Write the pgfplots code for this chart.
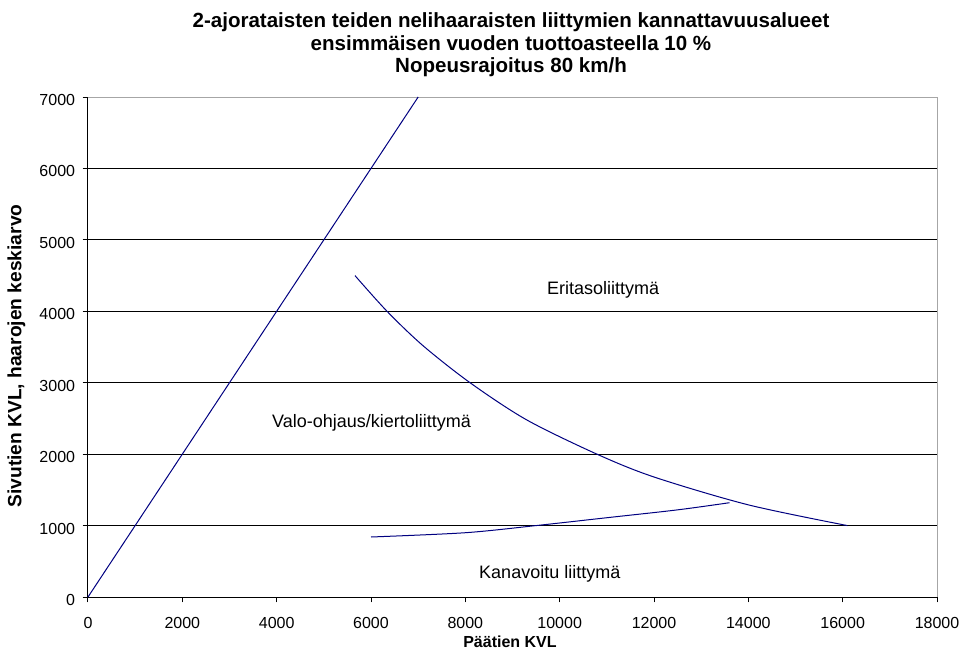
\documentclass[border=0pt]{standalone}
\usepackage{pgfplots}
\pgfplotsset{compat=1.18}
\usepackage{fontspec}
\setmainfont{Liberation Sans}
\definecolor{navy}{RGB}{0,0,128}
\begin{document}
\begin{tikzpicture}[x=0.75pt,y=0.75pt]
\useasboundingbox (-88,-54) rectangle (884,597);
\begin{axis}[
  at={(0,0)}, anchor=origin,
  scale only axis, width=636.75pt, height=375pt,
  xmin=0, xmax=18000, ymin=0, ymax=7000,
  xtick={0,2000,...,18000}, ytick={0,1000,...,7000},
  scaled ticks=false,
  /pgf/number format/.cd, assume math mode=true, set thousands separator={}, /pgfplots/.cd,
  tick label style={font=\fontsize{12}{14}\selectfont, inner sep=0pt},
  xticklabel style={anchor=base, yshift=-19.3pt},
  yticklabel style={anchor=east, xshift=-5.5pt, yshift=-2.25pt},
  ymajorgrids, major grid style={black, line width=0.75pt},
  axis line style={draw=gray!80},
  axis x line*=bottom, axis y line*=left,
  x axis line style={black, line width=0.75pt}, y axis line style={black, line width=0.75pt},
  tick style={black, line width=0.75pt}, tick align=outside, major tick length=4pt,
  xtick pos=bottom, ytick pos=left,
  clip=false,
]
\draw[gray!70, line width=0.75pt] (axis cs:0,7000) -- (axis cs:18000,7000) -- (axis cs:18000,0);
\addplot[navy, line width=0.75pt, no marks] coordinates {(0,0) (7000,7000)};
\addplot[navy, line width=0.75pt, no marks, smooth] coordinates {
(5660,4500) (6340,4000) (7100,3520) (8100,3000) (9300,2480) (10790,2000) (12000,1680) (14000,1290) (16100,1000)};
\addplot[navy, line width=0.75pt, no marks, smooth] coordinates {
(6000,840) (8000,900) (9500,1000) (11000,1110) (12500,1220) (13600,1320)};
\node[font=\fontsize{13.5}{16}\selectfont, anchor=base] at (axis cs:10920,4240) {Eritasoliittymä};
\node[font=\fontsize{13.5}{16}\selectfont, anchor=base] at (axis cs:6010,2380) {Valo-ohjaus/kiertoliittymä};
\node[font=\fontsize{13.5}{16}\selectfont, anchor=base] at (axis cs:9790,260) {Kanavoitu liittymä};
\end{axis}
\node[font=\fontsize{12}{14}\selectfont\bfseries, anchor=base] at (422,-50.5) {Päätien KVL};
\node[font=\fontsize{14.4}{16}\selectfont\bfseries, rotate=90] at (-71.5,241) {Sivutien KVL, haarojen keskiarvo};
\node[font=\fontsize{15.4}{17}\selectfont\bfseries, anchor=base] at (423,569) {2-ajorataisten teiden nelihaaraisten liittymien kannattavuusalueet};
\node[font=\fontsize{15.4}{17}\selectfont\bfseries, anchor=base] at (423,546.5) {ensimmäisen vuoden tuottoasteella 10 \%};
\node[font=\fontsize{15.4}{17}\selectfont\bfseries, anchor=base] at (423,524) {Nopeusrajoitus 80 km/h};
\end{tikzpicture}
\end{document}
